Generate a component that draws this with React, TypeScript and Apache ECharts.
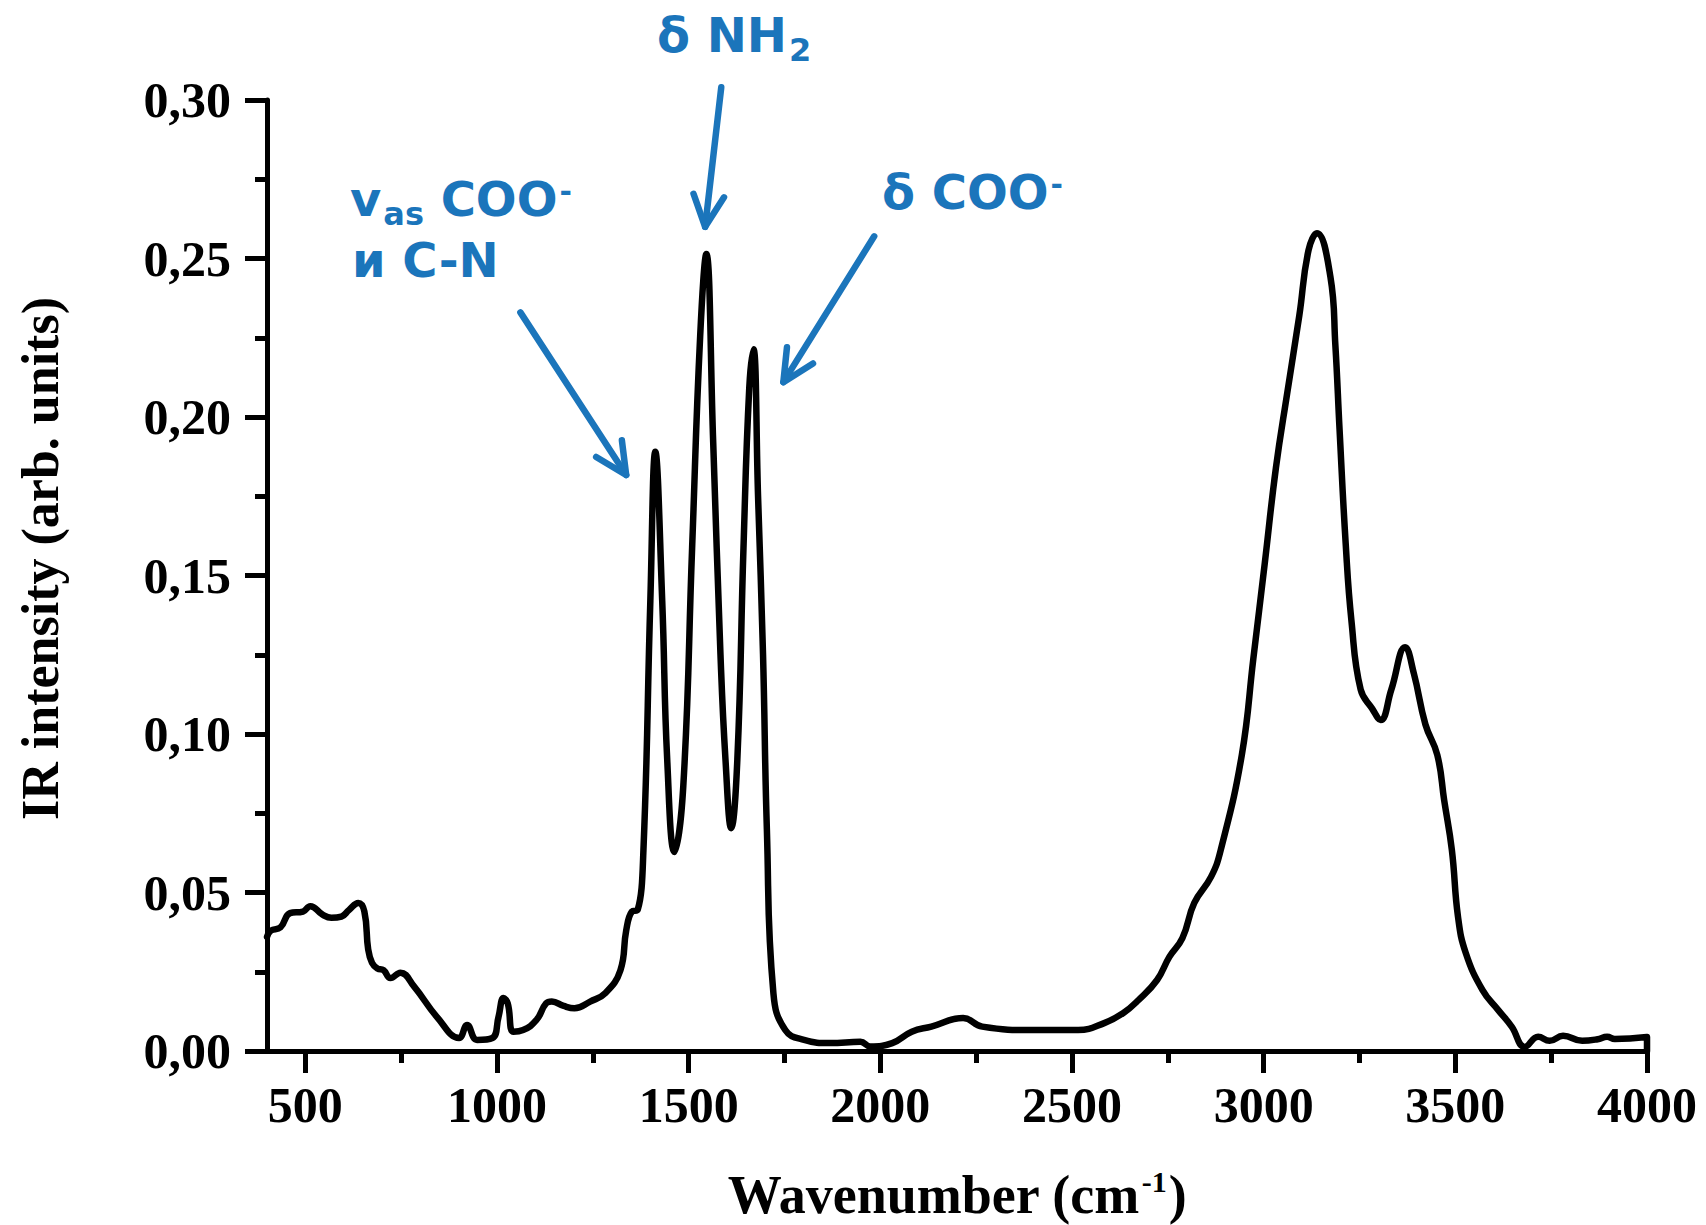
import React, { useEffect, useRef } from "react";
import * as echarts from "echarts";

const wavenumbers = [
  400, 410, 435, 460, 494, 513, 545, 568, 594, 614, 638, 654, 664, 674, 688, 704, 722, 748, 784, 843,
  901, 922, 948, 988, 1004, 1017, 1028, 1043, 1068, 1103, 1128, 1143, 1174, 1202, 1243, 1283, 1322, 1337,
  1352, 1367, 1382, 1400, 1413, 1431, 1444, 1463, 1486, 1509, 1530, 1546, 1564, 1583, 1596, 1611, 1627,
  1643, 1658, 1669, 1681, 1694, 1704, 1721, 1752, 1801, 1869, 1948, 1974, 2031, 2082, 2133, 2216, 2266,
  2400, 2516, 2584, 2634, 2673, 2722, 2754, 2788, 2819, 2863, 2888, 2943, 2973, 3003, 3032, 3062, 3093,
  3117, 3139, 3174, 3187, 3198, 3214, 3229, 3253, 3283, 3305, 3333, 3369, 3392, 3422, 3453, 3471, 3491,
  3507, 3527, 3571, 3612, 3647, 3681, 3716, 3746, 3781, 3831, 3871, 3896, 3916, 4000, 4000,
];

const intensity = [
  0.036, 0.038, 0.039, 0.0435, 0.044, 0.0457, 0.043, 0.042, 0.0424, 0.0445, 0.0467, 0.044, 0.032, 0.0278,
  0.026, 0.0255, 0.023, 0.0247, 0.0203, 0.0108, 0.0041, 0.0082, 0.0035, 0.0041, 0.0108, 0.0167, 0.015,
  0.0061, 0.0066, 0.0098, 0.015, 0.0156, 0.0142, 0.0135, 0.0156, 0.0183, 0.0255, 0.038, 0.044, 0.0445,
  0.0634, 0.142, 0.189, 0.142, 0.092, 0.0628, 0.0836, 0.1587, 0.2255, 0.2514, 0.192, 0.125, 0.092, 0.0703,
  0.092, 0.1587, 0.209, 0.2214, 0.175, 0.125, 0.07, 0.0183, 0.0066, 0.0035, 0.0025, 0.0029, 0.0014, 0.0025,
  0.0061, 0.0077, 0.0104, 0.0077, 0.0066, 0.0066, 0.0088, 0.012, 0.016, 0.0224, 0.0297, 0.0356, 0.0467,
  0.055, 0.0634, 0.0934, 0.1237, 0.154, 0.184, 0.208, 0.232, 0.2526, 0.258, 0.2443, 0.2227, 0.196, 0.16,
  0.1357, 0.114, 0.108, 0.1044, 0.114, 0.1274, 0.119, 0.103, 0.0934, 0.079, 0.0634, 0.0423, 0.031, 0.0192,
  0.0129, 0.0077, 0.0013, 0.0045, 0.0032, 0.0048, 0.0032, 0.0037, 0.0045, 0.0038, 0.0044, 0,
];

const xMajorTicks = [500, 1000, 1500, 2000, 2500, 3000, 3500, 4000];
const xMinorTicks = [750, 1250, 1750, 2250, 2750, 3250, 3750];

// annotation arrows in data coordinates: [wavenumber, intensity]
const arrowFrom = [
  [1061, 0.233],
  [1585, 0.304],
  [1984, 0.257],
];
const arrowTo = [
  [1337, 0.1817],
  [1543, 0.26],
  [1747, 0.211],
];

const BLUE = "#1b75bb";
const SERIF = "'Liberation Serif', 'Times New Roman', serif";
const SANS = "'DejaVu Sans', Verdana, sans-serif";

export default function App() {
  const ref = useRef<HTMLDivElement>(null);

  useEffect(() => {
    if (!ref.current) return;
    const chart = echarts.init(ref.current, null, { renderer: "svg" });
    const data = wavenumbers.map((w, i) => [w, intensity[i]]);

    const axisStyle = { color: "#000", width: 5 };
    chart.setOption({
      animation: false,
      backgroundColor: "#fff",
      grid: { left: 267, right: 59, top: 100, bottom: 174, outerBoundsMode: "none" },
      xAxis: [
        {
          type: "value",
          min: 400,
          max: 4000,
          position: "bottom",
          name: "{n|Wavenumber (cm}{sup|-1}{n|)}",
          nameLocation: "middle",
          nameGap: 117,
          nameTextStyle: {
            rich: {
              n: { fontFamily: SERIF, fontWeight: "bold", fontSize: 54, color: "#000", lineHeight: 54 },
              sup: {
                fontFamily: SERIF,
                fontWeight: "bold",
                fontSize: 30,
                color: "#000",
                lineHeight: 24,
                padding: [0, 2, 28, 2],
              },
            },
          },
          axisLine: { show: true, onZero: false, lineStyle: axisStyle },
          axisTick: { show: true, length: 22, lineStyle: axisStyle, customValues: xMajorTicks },
          axisLabel: {
            customValues: xMajorTicks,
            margin: 29,
            fontFamily: SERIF,
            fontWeight: "bold",
            fontSize: 50,
            color: "#000",
            formatter: (v: number) => String(v),
          },
          splitLine: { show: false },
        },
        {
          type: "value",
          min: 400,
          max: 4000,
          position: "bottom",
          axisLine: { show: false },
          axisTick: { show: true, length: 12, lineStyle: axisStyle, customValues: xMinorTicks },
          axisLabel: { show: false },
          splitLine: { show: false },
        },
      ],
      yAxis: {
        type: "value",
        min: 0,
        max: 0.3,
        interval: 0.05,
        name: "IR intensity (arb. units)",
        nameLocation: "middle",
        nameGap: 201,
        nameTextStyle: {
          fontFamily: SERIF,
          fontWeight: "bold",
          fontSize: 52,
          color: "#000",
          padding: [0, 0, 0, 34],
        },
        axisLine: { show: true, onZero: false, lineStyle: axisStyle },
        axisTick: { show: true, length: 22, lineStyle: axisStyle },
        minorTick: { show: true, splitNumber: 2, length: 12, lineStyle: axisStyle },
        axisLabel: {
          margin: 36,
          fontFamily: SERIF,
          fontWeight: "bold",
          fontSize: 50,
          color: "#000",
          formatter: (v: number) => v.toFixed(2).replace(".", ","),
        },
        splitLine: { show: false },
        minorSplitLine: { show: false },
      },
      series: [
        {
          type: "line",
          data,
          xAxisIndex: 0,
          yAxisIndex: 0,
          showSymbol: false,
          symbol: "none",
          smooth: 0.45,
          clip: false,
          lineStyle: { color: "#000", width: 6.5, join: "round", cap: "round" },
        },
      ],
    });

    // arrows via the chart's scales
    const graphics: any[] = [];
    const headLen = 35;
    const headAng = (26 * Math.PI) / 180;
    arrowFrom.forEach((f, i) => {
      const s = chart.convertToPixel({ xAxisIndex: 0, yAxisIndex: 0 }, f) as number[];
      const t = chart.convertToPixel({ xAxisIndex: 0, yAxisIndex: 0 }, arrowTo[i]) as number[];
      const dx = s[0] - t[0];
      const dy = s[1] - t[1];
      const len = Math.hypot(dx, dy);
      const ux = dx / len;
      const uy = dy / len;
      const rot = (a: number) => [
        t[0] + headLen * (ux * Math.cos(a) - uy * Math.sin(a)),
        t[1] + headLen * (ux * Math.sin(a) + uy * Math.cos(a)),
      ];
      const style = { stroke: BLUE, lineWidth: 6.5, lineCap: "round", lineJoin: "round", fill: null };
      graphics.push({
        type: "line",
        shape: { x1: s[0], y1: s[1], x2: t[0], y2: t[1] },
        style,
        z: 10,
      });
      graphics.push({
        type: "polyline",
        shape: { points: [rot(headAng), t, rot(-headAng)] },
        style,
        z: 10,
      });
    });

    const rich = {
      m: { fontFamily: SANS, fontWeight: "bold", fontSize: 48, lineHeight: 48, fill: BLUE },
      s: { fontFamily: SANS, fontWeight: "bold", fontSize: 32, lineHeight: 32, fill: BLUE, padding: [30, 0, 0, 2] },
      p: { fontFamily: SANS, fontWeight: "bold", fontSize: 30, lineHeight: 30, fill: BLUE, padding: [0, 0, 16, 2] },
    };
    const label = (text: string, x: number, y: number) => ({
      type: "text",
      x,
      y,
      z: 10,
      style: { text, rich, fill: BLUE, align: "left", verticalAlign: "middle", fontFamily: SANS, fontWeight: "bold", fontSize: 48 },
    });
    graphics.push(label("{m|δ NH}{s|2}", 657, 35));
    graphics.push(label("{m|v}{s|as}{m| COO}{p|-}", 350, 199));
    graphics.push(label("{m|и C-N}", 352, 260));
    graphics.push(label("{m|δ COO}{p|-}", 882, 192));

    chart.setOption({ graphic: graphics });

    return () => chart.dispose();
  }, []);

  return (
    <div
      ref={ref}
      style={{ position: "absolute", left: 0, top: 0, width: 1706, height: 1225 }}
    />
  );
}
